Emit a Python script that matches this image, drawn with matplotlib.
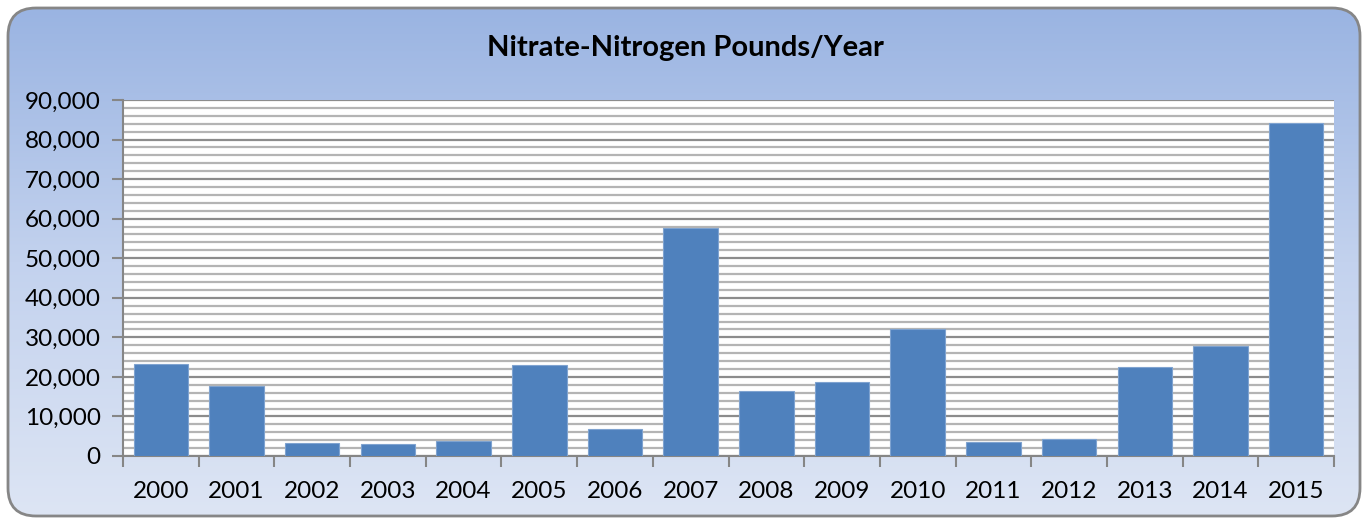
import numpy as np
import matplotlib
matplotlib.use('Agg')
import matplotlib.pyplot as plt
from matplotlib.patches import FancyBboxPatch
from matplotlib.ticker import MultipleLocator, FuncFormatter
from matplotlib.colors import LinearSegmentedColormap

years = ['2000', '2001', '2002', '2003', '2004', '2005', '2006', '2007',
         '2008', '2009', '2010', '2011', '2012', '2013', '2014', '2015']
pounds = [23200, 17700, 3300, 3000, 3700, 23000, 6800, 57600,
          16400, 18600, 32100, 3500, 4400, 22600, 27800, 84200]

plt.rcParams['font.family'] = ['Lato', 'DejaVu Sans']

fig = plt.figure(figsize=(13.69, 5.18), dpi=100)

# background with gradient inside a rounded box
bg = fig.add_axes([0, 0, 1, 1])
bg.set_xlim(0, 1369)
bg.set_ylim(518, 0)
bg.axis('off')
box = FancyBboxPatch((8, 8), 1352, 508, boxstyle='round,pad=0,rounding_size=28',
                     facecolor='none', edgecolor='#868686', linewidth=2, zorder=3)
cmap = LinearSegmentedColormap.from_list('bg', ['#9AB4E2', '#C3D2EE', '#DDE5F4'])
grad = np.linspace(0, 1, 256).reshape(-1, 1)
im = bg.imshow(grad, extent=[8, 1360, 516, 8], aspect='auto', cmap=cmap, zorder=1)
bg.add_patch(box)
im.set_clip_path(box)

ax = fig.add_axes([123 / 1369, 1 - 456 / 518, (1334 - 123) / 1369, (456 - 100) / 518])
ax.set_facecolor('white')
x = np.arange(len(years))
ax.bar(x, pounds, width=0.72, color='#4F81BD', edgecolor='#7FA3D0', linewidth=0.8, zorder=3)

ax.set_xlim(-0.5, len(years) - 0.5)
ax.set_ylim(0, 90000)
ax.yaxis.set_major_locator(MultipleLocator(10000))
ax.yaxis.set_minor_locator(MultipleLocator(2000))
ax.yaxis.set_major_formatter(FuncFormatter(lambda v, p: f'{int(v):,}'))
ax.grid(axis='y', which='major', color='#8C8C8C', linewidth=1.6, zorder=1)
ax.grid(axis='y', which='minor', color='#B4B4B4', linewidth=1.6, zorder=1)
ax.tick_params(axis='y', which='minor', length=0)
ax.tick_params(axis='y', which='major', length=8, width=1.5, color='#868686',
               labelsize=17.5, pad=8)

ax.set_xticks(x)
ax.set_xticklabels(years)
ax.tick_params(axis='x', which='major', length=0, labelsize=17.5, pad=18)
ax.set_xticks(np.arange(-0.5, len(years)), minor=True)
ax.tick_params(axis='x', which='minor', length=8, width=1.5, color='#868686')

for side in ['top', 'right']:
    ax.spines[side].set_visible(False)
for side in ['left', 'bottom']:
    ax.spines[side].set_color('#868686')
    ax.spines[side].set_linewidth(1.5)

fig.text(685 / 1369, 1 - 48 / 518, 'Nitrate-Nitrogen Pounds/Year', ha='center', va='center',
         fontsize=21, fontweight='bold')

fig.savefig('out.png', dpi=100)
